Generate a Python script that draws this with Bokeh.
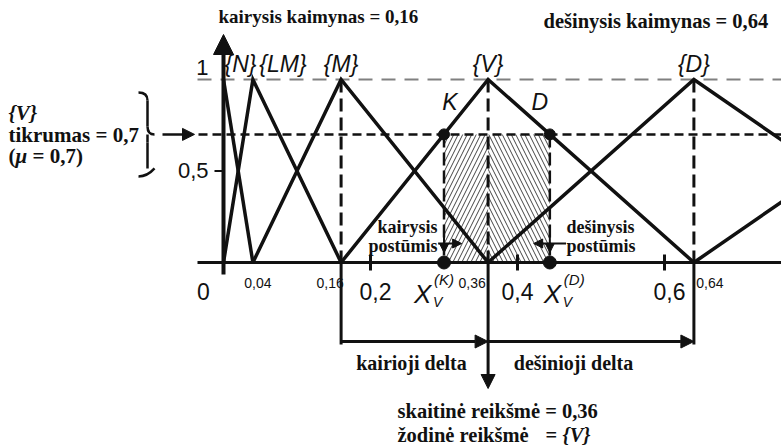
from bokeh.plotting import figure
from bokeh.models import Range1d, Arrow, NormalHead
from bokeh.core.properties import value
from bokeh.embed import file_html
from bokeh.resources import INLINE

# Linguistic scale: triangular membership functions (left foot, peak, right foot)
terms = ["{N}", "{LM}", "{M}", "{V}", "{D}", ""]
left_feet = [0.0, 0.0, 0.04, 0.16, 0.36, 0.64]
peaks = [0.0, 0.04, 0.16, 0.36, 0.64, 1.0]
right_feet = [0.04, 0.16, 0.36, 0.64, 1.0, 1.36]

# Evaluated term and its certainty
mu = 0.7
crisp = 0.36
left_neighbour = 0.16
right_neighbour = 0.64
x_k = left_neighbour + mu * (crisp - left_neighbour)
x_d = crisp + (1 - mu) * (right_neighbour - crisp)

# Axis ticks and labels
major_ticks = [0.0, 0.2, 0.4, 0.6]
major_labels = ["0", "0,2", "0,4", "0,6"]
minor_ticks = [0.04, 0.16, 0.36, 0.64]
minor_labels = ["0,04", "0,16", "0,36", "0,64"]

W, H = 781, 445
X0, KX = 223, 735      # screen x of value 0, pixels per unit
Y0, KY = 262, 183      # screen y of membership 0, pixels per unit
INK = "#111111"


def sx(px):
    return (px - X0) / KX


def sy(py):
    return (Y0 - py) / KY


SANS = "Liberation Sans"
SERIF = "Liberation Serif"

p = figure(width=W, height=H, output_backend="svg", toolbar_location=None,
           x_range=Range1d(sx(0), sx(W)), y_range=Range1d(sy(H), sy(0)),
           min_border=0, min_border_left=0, min_border_right=0,
           min_border_top=0, min_border_bottom=0)
p.xaxis.visible = False
p.yaxis.visible = False
p.grid.visible = False
p.outline_line_color = None
p.background_fill_color = "white"
p.border_fill_color = "white"


def label(x, y, txt, size, font=SANS, style="normal", align="center",
          dx=0):
    p.text(x=[x], y=[y], text=[txt], x_offset=[dx], text_font=value(font),
           text_font_size=f"{size}px", text_font_style=style,
           text_align=align, text_baseline="middle", text_color=INK)


def arrow(x0, y0, x1, y1, width=3, size=13):
    p.add_layout(Arrow(x_start=x0, y_start=y0, x_end=x1, y_end=y1,
                       line_width=width, line_color=INK,
                       end=NormalHead(size=size, fill_color=INK,
                                      line_color=INK, line_width=1)))


# hatched region between the K and D shifts
p.quad(left=[x_k], right=[crisp], bottom=[0], top=[mu], fill_alpha=0,
       line_color=None, hatch_pattern="/", hatch_scale=9, hatch_weight=1,
       hatch_color="#444444")
p.quad(left=[crisp], right=[x_d], bottom=[0], top=[mu], fill_alpha=0,
       line_color=None, hatch_pattern="\\", hatch_scale=9, hatch_weight=1,
       hatch_color="#444444")

# reference levels: membership 1 and certainty mu
p.segment(x0=[sx(197)], y0=[1], x1=[sx(W)], y1=[1], line_color="#808080",
          line_width=2, line_dash="14 9")
p.segment(x0=[sx(198)], y0=[mu], x1=[sx(W)], y1=[mu], line_color=INK,
          line_width=2.5, line_dash="9 5")

# dashed verticals at the peaks of the value and its neighbours
marks = [left_neighbour, crisp, right_neighbour]
p.segment(x0=marks, y0=[1] * 3, x1=marks, y1=[0] * 3, line_color=INK,
          line_width=3, line_dash="13 6")
# dashed verticals at the shifted points
p.segment(x0=[x_k, x_d], y0=[mu, mu], x1=[x_k, x_d], y1=[0, 0],
          line_color=INK, line_width=2.5, line_dash="13 5")

# triangular membership functions
xs, ys = [], []
for l, c, r in zip(left_feet, peaks, right_feet):
    if l == c:
        xs.append([c, r])
        ys.append([1, 0])
    else:
        xs.append([l, c, r])
        ys.append([0, 1, 0])
p.multi_line(xs=xs, ys=ys, line_color=INK, line_width=3.5,
             line_join="miter")

# axes
p.segment(x0=[sx(197)], y0=[0], x1=[sx(W)], y1=[0], line_color=INK,
          line_width=3)
arrow(0, sy(274), 0, sy(34), width=4, size=20)
p.segment(x0=major_ticks[1:], y0=[sy(270)] * 3, x1=major_ticks[1:],
          y1=[sy(254)] * 3, line_color=INK, line_width=3)
p.segment(x0=[sx(214)], y0=[0.5], x1=[0], y1=[0.5], line_color=INK,
          line_width=2)

# points K, D and their projections
p.scatter(x=[x_k, x_d], y=[mu, mu], size=11, color=INK)
p.scatter(x=[x_k, x_d], y=[0, 0], size=13, color=INK)

# tick labels
p.text(x=major_ticks, y=[sy(291)] * 4, text=major_labels,
       x_offset=[-20, 5, 0, 5], text_font=value(SANS), text_font_size="23px",
       text_align="center", text_baseline="middle", text_color=INK)
p.text(x=minor_ticks, y=[sy(282)] * 4, text=minor_labels,
       x_offset=[5, -11, -16, 16], text_font=value(SANS),
       text_font_size="14px", text_align="center", text_baseline="middle",
       text_color=INK)
label(sx(208), sy(67), "1", 22, align="right")
label(sx(208), sy(170), "0,5", 22, align="right")

# X_V^(K) and X_V^(D)
for xv, dx, sup in [(x_k, -30, "(K)"), (x_d, -6, "(D)")]:
    label(xv, sy(293), "X", 26, style="italic", align="left", dx=dx)
    label(xv, sy(301), "V", 14, style="italic", align="left", dx=dx + 19)
    label(xv, sy(279), sup, 15, style="italic", align="left", dx=dx + 20)

# term names above the peaks
term_offsets = [17, 30, 0, 0, 0, 0]
for t, c, off in zip(terms, peaks, term_offsets):
    if t:
        label(c, sy(63), t, 23, style="italic", dx=off)
label(x_k, sy(101), "K", 23, style="italic", dx=6)
label(x_d, sy(101), "D", 23, style="italic", dx=-10)

# neighbours
label(sx(218), sy(16), "kairysis kaimynas = 0,16", 19, font=SERIF,
      style="bold", align="left")
label(sx(543), sy(20), "dešinysis kaimynas = 0,64", 20.5, font=SERIF,
      style="bold", align="left")

# certainty block on the left
label(sx(8), sy(112), "{V}", 21, font=SERIF, style="bold italic",
      align="left")
label(sx(8), sy(134), "tikrumas = 0,7", 21, font=SERIF, style="bold",
      align="left")
label(sx(8), sy(155), "(", 21, font=SERIF, style="bold", align="left")
label(sx(15), sy(155), "μ", 21, font=SERIF, style="bold italic",
      align="left")
label(sx(32), sy(155), "= 0,7)", 21, font=SERIF, style="bold", align="left")

# curly brace and arrow to the certainty level
bx, by = 147, Y0 - KY * mu
p.quadratic(x0=[sx(138), sx(bx), sx(bx), sx(bx + 7)],
            y0=[sy(by - 42), sy(by - 8), sy(by), sy(by + 34)],
            x1=[sx(bx), sx(bx + 7), sx(bx), sx(138)],
            y1=[sy(by - 34), sy(by), sy(by + 8), sy(by + 42)],
            cx=[sx(bx), sx(bx), sx(bx), sx(bx)],
            cy=[sy(by - 42), sy(by), sy(by), sy(by + 42)],
            line_color=INK, line_width=2.5)
p.segment(x0=[sx(bx), sx(bx)], y0=[sy(by - 34), sy(by + 8)],
          x1=[sx(bx), sx(bx)], y1=[sy(by - 8), sy(by + 34)],
          line_color=INK, line_width=2.5)
arrow(sx(162), mu, sx(194), mu, width=2.5, size=12)

# shifts towards the value
label(sx(437), sy(226), "kairysis", 18, font=SERIF, style="bold",
      align="right")
label(sx(437), sy(245), "postūmis", 18, font=SERIF, style="bold",
      align="right")
label(sx(566), sy(226), "dešinysis", 18, font=SERIF, style="bold",
      align="left")
label(sx(566), sy(245), "postūmis", 18, font=SERIF, style="bold",
      align="left")
arrow(x_k - 0.008, sy(243), x_k + 0.024, sy(243), width=2, size=9)
arrow(x_d + 0.022, sy(243), x_d - 0.022, sy(243), width=2, size=9)
arrow(x_k, sy(234), x_k, sy(252), width=2, size=9)
arrow(x_d, sy(234), x_d, sy(252), width=2, size=9)

# deltas below the axis
p.segment(x0=[left_neighbour, right_neighbour], y0=[0, 0],
          x1=[left_neighbour, right_neighbour], y1=[sy(344), sy(344)],
          line_color=INK, line_width=3)
arrow(left_neighbour, sy(341), crisp, sy(341), width=3, size=13)
arrow(crisp, sy(341), right_neighbour, sy(341), width=3, size=13)
arrow(crisp, 0, crisp, sy(388), width=3, size=14)
label(sx(411), sy(362), "kairioji delta", 20, font=SERIF, style="bold")
label(sx(573), sy(362), "dešinioji delta", 20, font=SERIF, style="bold")

# result
label(sx(397), sy(410), "skaitinė reikšmė = 0,36", 20.5, font=SERIF,
      style="bold", align="left")
label(sx(397), sy(434), "žodinė reikšmė", 20.5, font=SERIF, style="bold",
      align="left")
label(sx(545), sy(434), "=", 20.5, font=SERIF, style="bold", align="left")
label(sx(562), sy(434), "{V}", 20.5, font=SERIF, style="bold italic",
      align="left")

open("out.html", "w").write(file_html(p, INLINE))
